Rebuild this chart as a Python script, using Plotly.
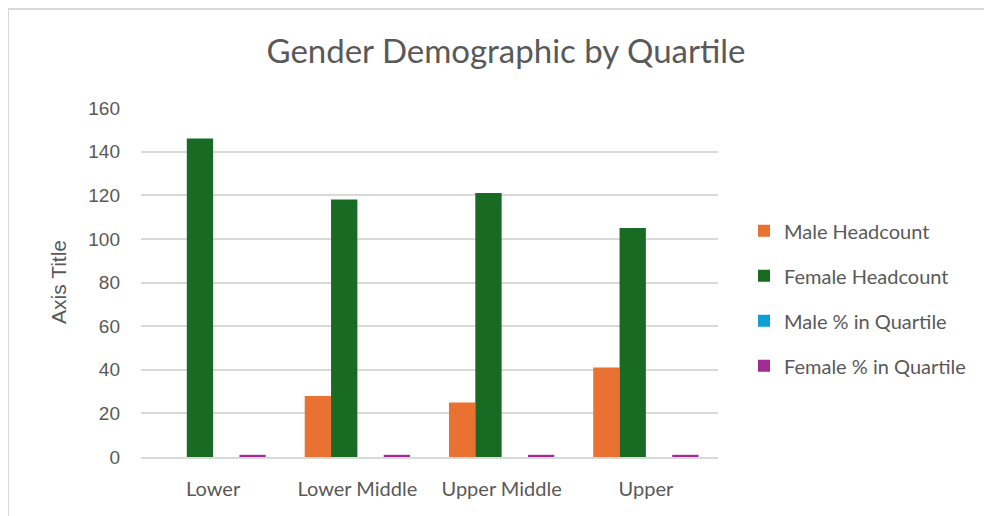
import plotly.graph_objects as go

categories = ["Lower", "Lower Middle", "Upper Middle", "Upper"]
male_headcount = [0, 28, 25, 41]
female_headcount = [146, 118, 121, 105]
male_pct = [0.0, 0.0, 0.0, 0.0]
female_pct = [1.0, 1.0, 1.0, 1.0]
y_ticks = [0, 20, 40, 60, 80, 100, 120, 140, 160]

# page draws the figure at an 8px body offset
OFF = 8
W, H = 992 - OFF, 516 - OFF
L = 141 - OFF
T = 108 - OFF
R = 992 - 718
B = 516 - 457
pw = W - L - R
ph = H - T - B


def px_x(x):
    return (x - OFF - L) / pw


def px_y(y):
    return 1 - (y - OFF - T) / ph


series = [
    ("Male Headcount", male_headcount, "#E97132"),
    ("Female Headcount", female_headcount, "#196B24"),
    ("Male % in Quartile", male_pct, "#0F9ED5"),
    ("Female % in Quartile", female_pct, "#A02B93"),
]

fig = go.Figure()
for name, vals, col in series:
    fig.add_trace(go.Bar(
        x=categories, y=vals, name=name, legendgroup=name,
        marker=dict(color=col, line=dict(width=0)),
    ))

fig.update_layout(
    width=W, height=H,
    margin=dict(l=L, r=R, t=T, b=B),
    paper_bgcolor="white", plot_bgcolor="white",
    barmode="group", bargap=0.27, bargroupgap=0,
    title=dict(text="Gender Demographic by Quartile", x=(506 - OFF) / W, xanchor="center",
               y=1 - (51 - OFF) / H, yanchor="middle", xref="container", yref="container",
               font=dict(family="Lato", size=33, color="#595959")),
    showlegend=True,
    legend=dict(x=px_x(744), xanchor="left", y=px_y(227) + 0.045, yanchor="top",
                font=dict(family="Lato", size=20, color="#595959"),
                tracegroupgap=16, itemwidth=30, bgcolor="rgba(0,0,0,0)"),
    xaxis=dict(showgrid=False, showline=True, linecolor="#D9D9D9", linewidth=1.5,
               ticks="", tickfont=dict(family="Lato", size=20, color="#595959"),
               ticklabelstandoff=13, fixedrange=True),
    yaxis=dict(range=[0, 160], tickvals=y_ticks, showgrid=True, gridcolor="#D9D9D9",
               gridwidth=1.5, zeroline=False, showline=False, ticks="",
               tickfont=dict(family="Liberation Sans", size=19, color="#595959"),
               ticklabelstandoff=20),
    annotations=[dict(text="Axis Title", textangle=-90, xref="paper", yref="paper",
                      x=px_x(58), y=px_y(282), xanchor="center", yanchor="middle",
                      showarrow=False, font=dict(family="Liberation Sans", size=21, color="#595959"))],
    shapes=[
        dict(type="line", xref="paper", yref="paper", x0=px_x(8), x1=px_x(1000),
             y0=px_y(9), y1=px_y(9), line=dict(color="#D9D9D9", width=2)),
        dict(type="line", xref="paper", yref="paper", x0=px_x(8), x1=px_x(8),
             y0=px_y(9), y1=px_y(530), line=dict(color="#D9D9D9", width=2)),
    ],
)

fig.write_html("out.html")
